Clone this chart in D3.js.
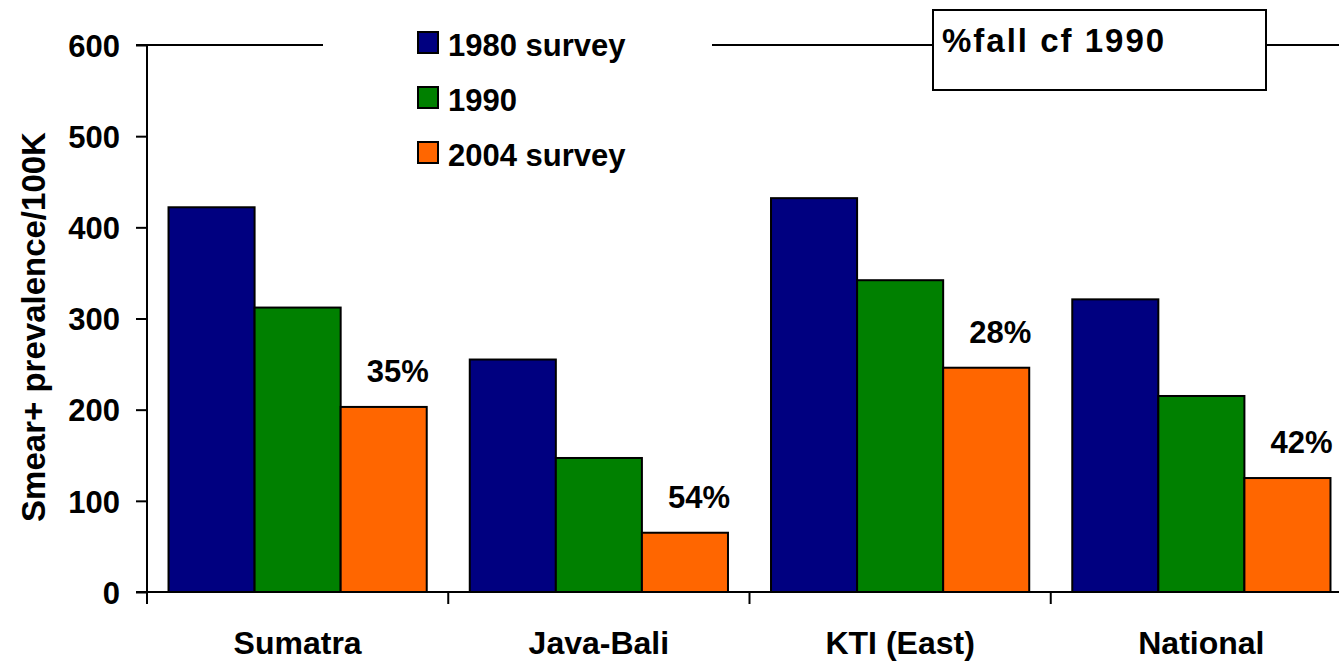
<!DOCTYPE html>
<html>
<head>
<meta charset="utf-8">
<script src="https://cdn.jsdelivr.net/npm/d3@7/dist/d3.min.js"></script>
<style>
  html, body { margin: 0; padding: 0; background: #fff; overflow: hidden; }
  svg { display: block; font-family: "Liberation Sans", Arial, sans-serif; font-weight: bold; }
</style>
</head>
<body>
<svg id="chart" width="1339" height="662"></svg>
<script>
// ---- data ----
const categories = ["Sumatra", "Java-Bali", "KTI (East)", "National"];
const seriesNames = ["1980 survey", "1990", "2004 survey"];
const survey1980 = [422, 255, 432, 321];
const survey1990 = [312, 147, 342, 215];
const survey2004 = [203, 65, 246, 125];
const fallLabels = ["35%", "54%", "28%", "42%"];
const yTicks = [0, 100, 200, 300, 400, 500, 600];
const boxTitle = "%fall cf 1990";
const yTitle = "Smear+ prevalence/100K";

const colors = ["#000080", "#008000", "#FF6600"];
const seriesValues = [survey1980, survey1990, survey2004];

const svg = d3.select("#chart");

const y = d3.scaleLinear().domain([0, 600]).range([592, 45]);
const x0 = d3.scaleBand().domain(categories).range([147, 1352]).padding(0);
const x1 = d3.scaleBand().domain(seriesNames).range([0, x0.bandwidth()]).paddingInner(0).paddingOuter(0.25);

// top border line (at 600)
svg.append("line")
  .attr("x1", 136).attr("x2", 1339)
  .attr("y1", y(600)).attr("y2", y(600))
  .attr("stroke", "#000").attr("stroke-width", 2);

// bars
const rows = categories.map((c, i) => ({ cat: c, vals: seriesNames.map((s, j) => ({ s, v: seriesValues[j][i], j })) }));
const g = svg.append("g");
const groups = g.selectAll("g.cat").data(rows).join("g")
  .attr("transform", d => `translate(${x0(d.cat)},0)`);
groups.selectAll("rect").data(d => d.vals).join("rect")
  .attr("x", d => x1(d.s))
  .attr("y", d => y(d.v))
  .attr("width", x1.bandwidth())
  .attr("height", d => y(0) - y(d.v))
  .attr("fill", d => colors[d.j])
  .attr("stroke", "#000").attr("stroke-width", 2);

// percent labels
svg.selectAll("text.pct").data(categories).join("text")
  .attr("class", "pct")
  .attr("x", (c, i) => x0(c) + x1(seriesNames[2]) + x1.bandwidth() / 2 + 14)
  .attr("y", (c, i) => y(survey2004[i]) - 25)
  .attr("text-anchor", "middle")
  .attr("font-size", 31)
  .text((c, i) => fallLabels[i]);

// y axis
const yAxis = d3.axisLeft(y).tickValues(yTicks).tickSize(11).tickPadding(16).tickFormat(d3.format("d"));
const ya = svg.append("g").attr("transform", "translate(147,0)").call(yAxis);
ya.select(".domain").attr("stroke", "#000").attr("stroke-width", 2).attr("d", `M0,${y(600)}V${y(0)}`);
ya.selectAll(".tick line").attr("stroke", "#000").attr("stroke-width", 2);
ya.selectAll(".tick text").attr("font-size", 31).attr("font-weight", "bold")
  .attr("font-family", "Liberation Sans, Arial, sans-serif").attr("fill", "#000").attr("dy", "0.36em");

// x axis
const boundaries = categories.map(c => x0(c));
svg.append("line")
  .attr("x1", 136).attr("x2", 1352).attr("y1", y(0)).attr("y2", y(0))
  .attr("stroke", "#000").attr("stroke-width", 2);
svg.selectAll("line.xt").data(boundaries).join("line")
  .attr("class", "xt")
  .attr("x1", d => d).attr("x2", d => d)
  .attr("y1", y(0)).attr("y2", y(0) + 12)
  .attr("stroke", "#000").attr("stroke-width", 2);
svg.selectAll("text.xl").data(categories).join("text")
  .attr("class", "xl")
  .attr("x", d => x0(d) + x0.bandwidth() / 2)
  .attr("y", 654)
  .attr("text-anchor", "middle")
  .attr("font-size", 32)
  .text(d => d);

// y title
svg.append("text")
  .attr("transform", "translate(45,327) rotate(-90)")
  .attr("text-anchor", "middle")
  .attr("font-size", 33)
  .text(yTitle);

// legend (white background breaking the top line)
svg.append("rect").attr("x", 323).attr("y", 20).attr("width", 389).attr("height", 155).attr("fill", "#fff");
const leg = svg.selectAll("g.leg").data(seriesNames).join("g")
  .attr("class", "leg")
  .attr("transform", (d, i) => `translate(418,${32 + i * 55})`);
leg.append("rect").attr("width", 20).attr("height", 21)
  .attr("fill", (d, i) => colors[i]).attr("stroke", "#000").attr("stroke-width", 2);
leg.append("text").attr("x", 30).attr("y", 24).attr("font-size", 31).text(d => d);

// %fall box
svg.append("rect").attr("x", 933).attr("y", 10).attr("width", 333).attr("height", 80)
  .attr("fill", "#fff").attr("stroke", "#000").attr("stroke-width", 2);
svg.append("text").attr("x", 942).attr("y", 52).attr("font-size", 33)
  .attr("letter-spacing", 2).text(boxTitle);
</script>
</body>
</html>
